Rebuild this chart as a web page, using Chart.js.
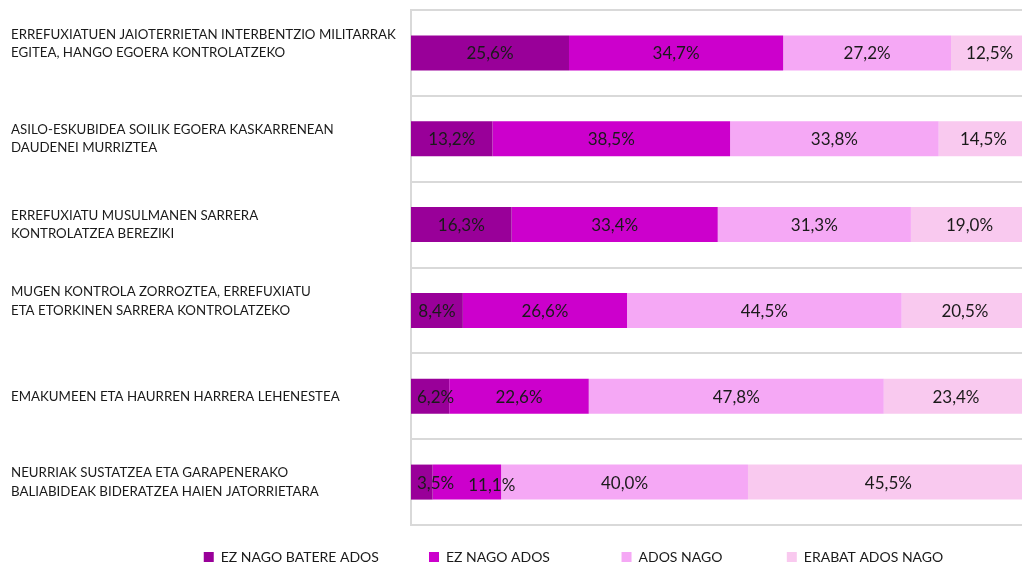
<!DOCTYPE html>
<html>
<head>
<meta charset="utf-8">
<script src="https://cdn.jsdelivr.net/npm/chart.js@4/dist/chart.umd.min.js"></script>
<style>
  html, body { margin: 0; padding: 0; background: #fff; }
  #wrap { width: 1022px; height: 564px; position: relative; }
</style>
</head>
<body>
<div id="wrap"><canvas id="chart"></canvas></div>
<script>
const categories = [
  ['ERREFUXIATUEN JAIOTERRIETAN INTERBENTZIO MILITARRAK', 'EGITEA, HANGO EGOERA KONTROLATZEKO', ''],
  ['ASILO-ESKUBIDEA SOILIK EGOERA KASKARRENEAN', 'DAUDENEI MURRIZTEA'],
  ['ERREFUXIATU MUSULMANEN SARRERA', 'KONTROLATZEA BEREZIKI'],
  ['MUGEN KONTROLA ZORROZTEA, ERREFUXIATU', 'ETA ETORKINEN SARRERA KONTROLATZEKO', ''],
  ['EMAKUMEEN ETA HAURREN HARRERA LEHENESTEA'],
  ['NEURRIAK SUSTATZEA ETA GARAPENERAKO', 'BALIABIDEAK BIDERATZEA HAIEN JATORRIETARA'],
];

const seriesNames = ['EZ NAGO BATERE ADOS', 'EZ NAGO ADOS', 'ADOS NAGO', 'ERABAT ADOS NAGO'];
const ezBatere = [25.6, 13.2, 16.3, 8.4, 6.2, 3.5];
const ezAdos = [34.7, 38.5, 33.4, 26.6, 22.6, 11.1];
const ados = [27.2, 33.8, 31.3, 44.5, 47.8, 40.0];
const erabatAdos = [12.5, 14.5, 19.0, 20.5, 23.4, 45.5];

const colors = ['#990099', '#cc00cc', '#f5a8f5', '#f9c9ef'];
const FONT = "Lato, 'Open Sans', sans-serif";
const LEGEND_PAD = 25;
// extra room after each legend entry (the original spacing is uneven)
const legendGaps = [25, 45, 40, 53];

const fmt = (v) => v.toFixed(1).replace('.', ',') + '%';

const measure = document.createElement('canvas').getContext('2d');
measure.font = `14px ${FONT}`;
const spaceW = measure.measureText(' ').width || 3;

// value labels centred in each segment, nudged apart where they collide
const segmentLabels = {
  id: 'segmentLabels',
  afterDatasetsDraw(chart) {
    const { ctx, chartArea } = chart;
    ctx.save();
    ctx.font = `17px ${FONT}`;
    ctx.fillStyle = '#1a1a1a';
    ctx.textBaseline = 'middle';
    ctx.textAlign = 'center';
    const lastRight = {};
    chart.data.datasets.forEach((ds, i) => {
      chart.getDatasetMeta(i).data.forEach((bar, j) => {
        const { x, base, y } = bar.getProps(['x', 'base', 'y'], true);
        const text = fmt(ds.data[j]);
        const w = ctx.measureText(text).width;
        let cx = (x + base) / 2;
        if (cx - w / 2 < chartArea.left + 6) cx = chartArea.left + 6 + w / 2;
        let dy = 0;
        if (lastRight[j] != null && cx - w / 2 < lastRight[j] + 14) {
          cx = lastRight[j] + 14 + w / 2;
          dy = 2;
        }
        lastRight[j] = cx + w / 2;
        if (cx > chartArea.right) return;
        ctx.fillText(text, cx, y + 1 + dy);
      });
    });
    ctx.restore();
  },
};

const seriesData = [ezBatere, ezAdos, ados, erabatAdos];

new Chart(document.getElementById('chart'), {
  type: 'bar',
  data: {
    labels: categories,
    datasets: seriesData.map((d, i) => ({
      label: seriesNames[i],
      data: d,
      backgroundColor: colors[i],
      borderWidth: 0,
      barPercentage: 0.408,
      categoryPercentage: 1,
    })),
  },
  options: {
    indexAxis: 'y',
    responsive: true,
    maintainAspectRatio: false,
    animation: false,
    layout: { padding: { left: 11, top: 10, right: 0, bottom: -10 } },
    scales: {
      x: {
        stacked: true,
        display: false,
        min: 0,
        max: 99,
      },
      y: {
        stacked: true,
        offset: true,
        grid: { offset: true, color: '#d9d9d9', lineWidth: 2, drawTicks: false },
        border: { display: true, color: '#d9d9d9', width: 2 },
        ticks: {
          crossAlign: 'far',
          color: '#1a1a1a',
          font: { family: FONT, size: 13.3, lineHeight: 1.4 },
        },
        afterFit: (scale) => {
          scale.width = 400;
          scale.paddingTop = 0;
          scale.paddingBottom = 0;
        },
      },
    },
    plugins: {
      tooltip: { enabled: false },
      legend: {
        position: 'bottom',
        align: 'end',
        labels: {
          boxWidth: 10,
          boxHeight: 10,
          padding: LEGEND_PAD,
          color: '#1a1a1a',
          font: { family: FONT, size: 14 },
          generateLabels: (chart) =>
            Chart.defaults.plugins.legend.labels.generateLabels(chart).map((item, i) => ({
              ...item,
              text: item.text + ' '.repeat(Math.round(legendGaps[i] / spaceW)),
            })),
        },
      },
    },
  },
  plugins: [segmentLabels],
});
</script>
</body>
</html>
